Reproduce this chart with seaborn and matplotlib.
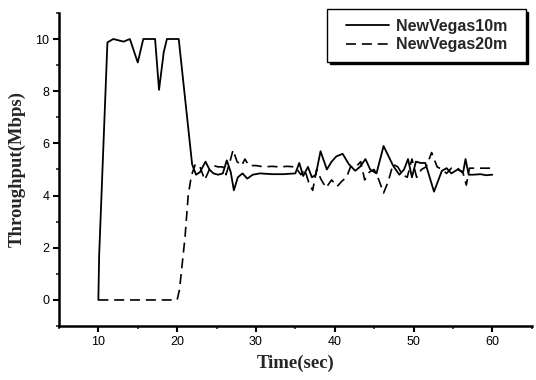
import matplotlib
matplotlib.use("Agg")
import matplotlib.pyplot as plt
from matplotlib.legend_handler import HandlerLine2D
from matplotlib.lines import Line2D
from matplotlib.ticker import MultipleLocator
import pandas as pd
import seaborn as sns

# ─── Data ─────────────────────────────────────────────────────────────────────
t_10m = [10, 10.1, 11.15, 11.9, 13.2, 14.0, 15.0, 15.7, 17.2, 17.7, 18.3, 18.7, 20.2,
         21.9, 22.4, 22.9, 23.6, 24.1, 24.6, 25.2, 25.8, 26.3, 26.8, 27.2, 27.7,
         28.3, 28.9, 29.6, 30.5, 32.0, 33.5, 35.0, 35.5, 36.0, 36.6, 37.1, 37.6,
         38.2, 39.0, 39.6, 40.2, 41.0, 41.8, 42.6, 43.2, 43.9, 44.5, 45.3, 46.2,
         47.4, 48.2, 48.8, 49.3, 49.8, 50.3, 50.9, 51.5, 52.6, 53.6, 54.2, 54.8,
         55.6, 56.3, 56.6, 57.0, 57.6, 58.5, 59.2, 60.0]
v_10m = [0, 1.7, 9.87, 10.0, 9.9, 10.0, 9.1, 10.0, 10.0, 8.05, 9.5, 10.0, 10.0,
         5.2, 4.8, 4.9, 5.3, 5.0, 4.85, 4.8, 4.85, 5.35, 4.9, 4.2, 4.7,
         4.85, 4.65, 4.8, 4.85, 4.82, 4.82, 4.85, 5.25, 4.75, 5.1, 4.7, 4.8,
         5.7, 5.0, 5.3, 5.5, 5.6, 5.2, 4.95, 5.1, 5.4, 5.0, 4.85, 5.9,
         5.15, 4.8, 5.0, 5.4, 4.7, 5.3, 5.25, 5.25, 4.15, 4.95, 5.05, 4.85,
         5.0, 4.9, 5.4, 4.8, 4.8, 4.82, 4.78, 4.8]

t_20m = [10, 20.0, 20.3, 21.0, 21.4, 21.8, 22.3, 22.9, 23.5, 24.1, 24.6, 25.2,
         25.8, 26.2, 26.7, 27.1, 27.6, 28.2, 28.6, 29.1, 30.0, 31.0, 32.0, 33.0,
         34.0, 35.0, 35.7, 36.2, 36.7, 37.2, 37.7, 38.3, 38.9, 39.6, 40.3, 40.9,
         41.5, 42.0, 42.7, 43.3, 43.8, 44.4, 45.0, 45.6, 46.2, 46.8, 47.4, 48.0,
         48.6, 49.2, 49.8, 50.4, 51.0, 51.6, 52.3, 53.0, 53.6, 54.2, 54.8, 55.6,
         56.3, 56.7, 57.1, 58.0, 59.0, 60.0]
v_20m = [0, 0, 0.4, 2.4, 4.0, 4.75, 5.2, 5.1, 4.6, 5.0, 5.15, 5.1,
         5.1, 4.8, 5.3, 5.75, 5.3, 5.15, 5.4, 5.15, 5.15, 5.1, 5.12, 5.1,
         5.12, 5.1, 4.8, 5.0, 4.5, 4.2, 5.0, 4.6, 4.3, 4.6, 4.35, 4.55,
         4.7, 5.1, 5.1, 5.3, 4.6, 4.9, 5.0, 4.6, 4.1, 4.55, 5.2, 5.1,
         4.8, 4.7, 5.4, 4.7, 5.0, 5.1, 5.65, 5.1, 5.0, 4.85, 5.05, 5.05,
         4.85, 4.4, 5.05, 5.05, 5.05, 5.05]

x_ticks = [10, 20, 30, 40, 50, 60]
y_ticks = [0, 2, 4, 6, 8, 10]

sns.set_style("ticks")
plt.rcParams["font.family"] = ["Liberation Sans", "DejaVu Sans"]

df10 = pd.DataFrame({"time": t_10m, "thr": v_10m})
df20 = pd.DataFrame({"time": t_20m, "thr": v_20m})

fig = plt.figure(figsize=(5.36, 3.80), dpi=100)
ax = fig.add_axes([0.110, 0.142, 0.882, 0.824])

sns.lineplot(data=df10, x="time", y="thr", ax=ax, color="black", linewidth=1.3,
             estimator=None, sort=False, label="NewVegas10m")
sns.lineplot(data=df20, x="time", y="thr", ax=ax, color="black", linewidth=1.2,
             estimator=None, sort=False, label="NewVegas20m",
             linestyle=(0, (6, 3.5)))

ax.set_xlim(5, 65)
ax.set_ylim(-1, 11)
ax.set_xticks(x_ticks)
ax.set_yticks(y_ticks)
ax.xaxis.set_minor_locator(MultipleLocator(5))
ax.yaxis.set_minor_locator(MultipleLocator(1))
ax.tick_params(which="major", direction="out", length=4, width=1.5,
               labelsize=9, colors="black", pad=3)
ax.tick_params(which="minor", direction="out", length=2.5, width=1.2)

for side in ["top", "right"]:
    ax.spines[side].set_visible(False)
for side in ["left", "bottom"]:
    ax.spines[side].set_linewidth(1.8)
    ax.spines[side].set_color("black")

ax.set_xlabel("Time(sec)", family="Liberation Serif", fontweight="bold",
              fontsize=13.5, labelpad=5)
ax.set_ylabel("Throughput(Mbps)", family="Liberation Serif", fontweight="bold",
              fontsize=13.5, labelpad=7)

# legend: handle pushed right a little inside the box
leg = ax.legend(loc="upper left", bbox_to_anchor=(327 / 536, 1 - 9 / 380),
                bbox_transform=fig.transFigure,
                prop={"size": 11.5, "weight": "bold"}, frameon=True,
                fancybox=False, shadow={"color": "black", "alpha": 1},
                edgecolor="black", framealpha=1, borderpad=0.6,
                borderaxespad=0, handlelength=3.3, handletextpad=0.4,
                labelspacing=0.22,
                handler_map={Line2D: HandlerLine2D(xpad=0.6)})
leg.get_frame().set_linewidth(1.0)
for txt in leg.get_texts():
    txt.set_text(txt.get_text() + "  ")

fig.savefig("out.png", dpi=100)
